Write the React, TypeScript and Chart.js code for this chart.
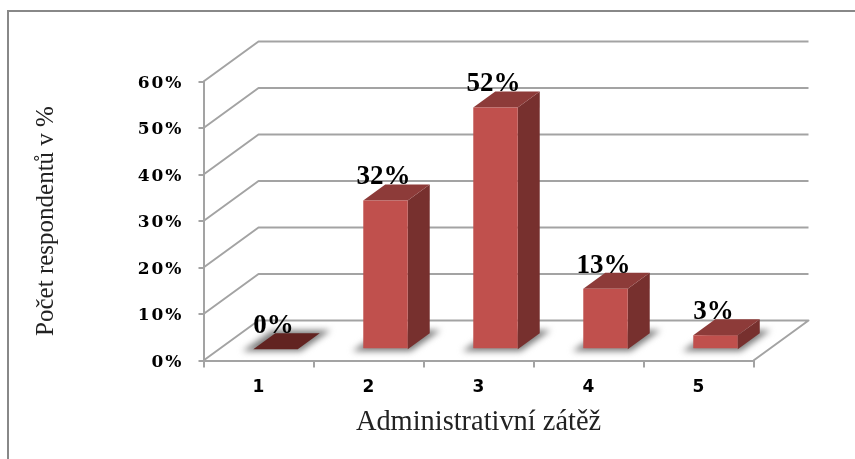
import React, { useEffect, useRef } from "react";
import { Chart, registerables } from "chart.js";

Chart.register(...registerables);

const categories = ["1", "2", "3", "4", "5"];
const respondents = [0, 32, 52, 13, 3];
const yTicks = [0, 10, 20, 30, 40, 50, 60];
const xTitle = "Administrativní zátěž";
const yTitle = "Počet respondentů v %";

const WIDTH = 855;
const HEIGHT = 459;
const AREA = { left: 203.5, top: 81.5, right: 753.5, bottom: 360.5 };
const WALL = { dx: 55, dy: -40 };
const BAR_SHIFT = { dx: 17, dy: -11.2 };
const BAR_DEPTH = { dx: 22, dy: -16 };
const LINE = "#a3a3a3";
const FRONT = "#c0504d";
const SIDE = "#77302e";
const TOP = "#8d3b39";
const TOP_EMPTY = "#622321";

const scene = {
  id: "scene",
  beforeDraw(chart: any) {
    const { ctx } = chart;
    ctx.save();
    ctx.strokeStyle = "#888888";
    ctx.lineWidth = 2;
    ctx.beginPath();
    ctx.moveTo(8, HEIGHT);
    ctx.lineTo(8, 11);
    ctx.lineTo(WIDTH, 11);
    ctx.stroke();
    ctx.restore();
  },
  beforeDatasetsDraw(chart: any) {
    const { ctx, scales, chartArea } = chart;
    const y = scales.y;
    ctx.save();
    ctx.strokeStyle = LINE;
    ctx.lineWidth = 2;
    ctx.lineJoin = "round";
    for (const tick of y.ticks) {
      const py = y.getPixelForValue(tick.value);
      ctx.beginPath();
      ctx.moveTo(chartArea.left, py);
      ctx.lineTo(chartArea.left + WALL.dx, py + WALL.dy);
      ctx.lineTo(chartArea.right + WALL.dx, py + WALL.dy);
      if (tick.value === 0) ctx.lineTo(chartArea.right, py);
      ctx.stroke();
    }
    const meta = chart.getDatasetMeta(0);
    const base = y.getPixelForValue(0) + BAR_SHIFT.dy;
    meta.data.forEach((bar: any) => {
      const half = bar.width / 2;
      const l = bar.x - half + BAR_SHIFT.dx;
      const r = bar.x + half + BAR_SHIFT.dx;
      ctx.save();
      ctx.filter = "blur(3px)";
      ctx.fillStyle = "#7d7d7d";
      ctx.beginPath();
      ctx.moveTo(l - 11, base + 2);
      ctx.lineTo(r + 3, base + 2);
      ctx.lineTo(r + BAR_DEPTH.dx + 11, base + BAR_DEPTH.dy - 3);
      ctx.lineTo(l + BAR_DEPTH.dx - 3, base + BAR_DEPTH.dy - 3);
      ctx.closePath();
      ctx.fill();
      ctx.restore();
    });
    meta.data.forEach((bar: any, i: number) => {
      const half = bar.width / 2;
      const l = bar.x - half + BAR_SHIFT.dx;
      const r = bar.x + half + BAR_SHIFT.dx;
      const top = bar.y + BAR_SHIFT.dy;
      ctx.fillStyle = SIDE;
      ctx.beginPath();
      ctx.moveTo(r, top);
      ctx.lineTo(r + BAR_DEPTH.dx, top + BAR_DEPTH.dy);
      ctx.lineTo(r + BAR_DEPTH.dx, base + BAR_DEPTH.dy);
      ctx.lineTo(r, base);
      ctx.closePath();
      ctx.fill();
      ctx.fillStyle = respondents[i] === 0 ? TOP_EMPTY : TOP;
      ctx.beginPath();
      ctx.moveTo(l, top);
      ctx.lineTo(r, top);
      ctx.lineTo(r + BAR_DEPTH.dx, top + BAR_DEPTH.dy);
      ctx.lineTo(l + BAR_DEPTH.dx, top + BAR_DEPTH.dy);
      ctx.closePath();
      ctx.fill();
    });
    ctx.restore();
    // the library's front faces stand back from the axis plane
    ctx.save();
    ctx.translate(BAR_SHIFT.dx, BAR_SHIFT.dy);
  },
  afterDatasetsDraw(chart: any) {
    const { ctx, scales } = chart;
    ctx.restore();
    const meta = chart.getDatasetMeta(0);
    ctx.save();
    ctx.fillStyle = "#000000";
    ctx.font = "bold 27px 'Liberation Serif'";
    ctx.textAlign = "center";
    ctx.textBaseline = "middle";
    meta.data.forEach((bar: any, i: number) => {
      const py = scales.y.getPixelForValue(respondents[i]) + BAR_SHIFT.dy;
      ctx.fillText(`${respondents[i]}%`, bar.x + BAR_SHIFT.dx - 2, py - 23);
    });
    ctx.restore();
    // only the y tick labels are drawn after this point (ticks.z = 1)
    ctx.letterSpacing = "2px";
  },
  afterDraw(chart: any) {
    chart.ctx.letterSpacing = "0px";
  },
};

export default function App() {
  const ref = useRef<HTMLCanvasElement>(null);
  useEffect(() => {
    document.body.style.margin = "0";
    document.body.style.background = "#ffffff";
    const chart = new Chart(ref.current!, {
      type: "bar",
      data: {
        labels: categories,
        datasets: [
          {
            label: yTitle,
            data: respondents,
            backgroundColor: FRONT,
            barPercentage: 0.404,
            categoryPercentage: 1,
            clip: false,
          } as any,
        ],
      },
      options: {
        responsive: false,
        animation: false,
        layout: {
          padding: {
            left: 0,
            top: AREA.top,
            right: WIDTH - AREA.right,
            bottom: 0,
          },
        },
        plugins: { legend: { display: false }, tooltip: { enabled: false } },
        scales: {
          x: {
            afterFit: (s: any) => {
              s.height = HEIGHT - AREA.bottom;
            },
            grid: {
              drawOnChartArea: false,
              color: LINE,
              lineWidth: 2,
              tickLength: 7,
            },
            border: { color: LINE, width: 2 },
            ticks: {
              padding: 10,
              color: "#000000",
              maxRotation: 0,
              font: { family: "'DejaVu Sans'", weight: "bold", size: 17 },
            },
            title: {
              display: true,
              text: xTitle,
              color: "#222222",
              font: { family: "'Liberation Serif'", size: 28.4 },
              padding: { top: 0, bottom: 19 },
            },
          },
          y: {
            min: 0,
            max: 60,
            afterBuildTicks: (s: any) => {
              s.ticks = yTicks.map((value) => ({ value }));
            },
            afterFit: (s: any) => {
              s.width = AREA.left;
            },
            grid: {
              drawOnChartArea: false,
              color: LINE,
              lineWidth: 2,
              tickLength: 5,
            },
            border: { color: LINE, width: 2 },
            ticks: {
              padding: 15,
              z: 1,
              labelOffset: 2,
              color: "#000000",
              callback: (v: any) => `${v}%`,
              font: { family: "'DejaVu Serif'", weight: "bold", size: 17 },
            },
            title: {
              display: true,
              text: yTitle,
              color: "#222222",
              font: { family: "'Liberation Serif'", size: 25 },
              padding: { top: 31, bottom: 0 },
            },
          },
        },
      },
      plugins: [scene],
    } as any);
    return () => chart.destroy();
  }, []);
  return (
    <div style={{ position: "absolute", left: 0, top: 0, width: WIDTH, height: HEIGHT, background: "#ffffff" }}>
      <canvas ref={ref} width={WIDTH} height={HEIGHT} style={{ display: "block", filter: "blur(0.4px)" }} />
    </div>
  );
}
